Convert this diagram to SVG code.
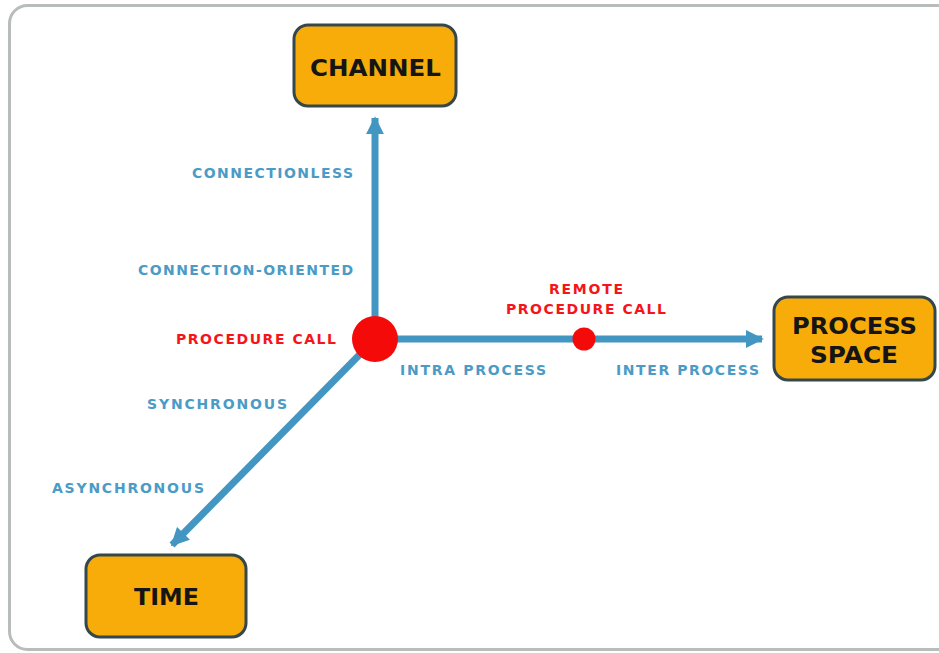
<svg xmlns="http://www.w3.org/2000/svg" width="939" height="653" viewBox="0 0 939 653">
<defs>
<style>
.box{fill:#F8AC0A;stroke:#34474A;stroke-width:3}
.bt{font-family:"DejaVu Sans",sans-serif;font-size:23px;font-weight:bold;fill:#151515}
.lb{font-family:"DejaVu Sans",sans-serif;font-size:14px;font-weight:bold;fill:#4A9BC6}
.rd{font-family:"DejaVu Sans",sans-serif;font-size:14px;font-weight:bold;fill:#F5141A}
.ax{stroke:#4396C2;stroke-width:7;fill:none}
</style>
<marker id="ah" viewBox="0 0 10 10" refX="9" refY="5" markerWidth="2.6" markerHeight="2.6" orient="auto" markerUnits="strokeWidth">
<path d="M0,0 L10,5 L0,10 z" fill="#4396C2"/>
</marker>
</defs>
<rect width="939" height="653" fill="#fff"/>
<rect x="9.5" y="5.5" width="960" height="644" rx="18" fill="#fff" stroke="#B9BDB9" stroke-width="3"/>
<g id="connectors">
<line class="ax" x1="375" y1="339" x2="375" y2="118" marker-end="url(#ah)"/>
<line class="ax" x1="375" y1="339" x2="762" y2="339" marker-end="url(#ah)"/>
<line class="ax" x1="375" y1="339" x2="172" y2="545" marker-end="url(#ah)"/>
</g>
<g id="channel">
<rect class="box" x="294" y="25" width="162" height="81" rx="14"/>
<text class="bt" x="310" y="76" textLength="131" lengthAdjust="spacingAndGlyphs">CHANNEL</text>
</g>
<g id="process-space">
<rect class="box" x="774" y="297" width="161" height="83" rx="14"/>
<text class="bt" x="792" y="334" textLength="125" lengthAdjust="spacingAndGlyphs">PROCESS</text>
<text class="bt" x="810" y="363" textLength="88" lengthAdjust="spacingAndGlyphs">SPACE</text>
</g>
<g id="time">
<rect class="box" x="86" y="555" width="160" height="82" rx="14"/>
<text class="bt" x="134" y="605" textLength="65" lengthAdjust="spacingAndGlyphs">TIME</text>
</g>
<g id="procedure-call">
<circle cx="375" cy="339" r="23" fill="#F50A0A"/>
<text class="rd" x="176" y="344" textLength="160" lengthAdjust="spacing">PROCEDURE CALL</text>
</g>
<g id="remote-procedure-call">
<circle cx="584" cy="339" r="11.5" fill="#F50A0A"/>
<text class="rd" x="549" y="294" textLength="74" lengthAdjust="spacing">REMOTE</text>
<text class="rd" x="506" y="314" textLength="160" lengthAdjust="spacing">PROCEDURE CALL</text>
</g>
<g id="labels">
<text class="lb" x="192" y="178" textLength="161" lengthAdjust="spacing">CONNECTIONLESS</text>
<text class="lb" x="138" y="275" textLength="215" lengthAdjust="spacing">CONNECTION-ORIENTED</text>
<text class="lb" x="400" y="375" textLength="146" lengthAdjust="spacing">INTRA PROCESS</text>
<text class="lb" x="616" y="375" textLength="143" lengthAdjust="spacing">INTER PROCESS</text>
<text class="lb" x="147" y="409" textLength="140" lengthAdjust="spacing">SYNCHRONOUS</text>
<text class="lb" x="52" y="493" textLength="152" lengthAdjust="spacing">ASYNCHRONOUS</text>
</g>
</svg>
